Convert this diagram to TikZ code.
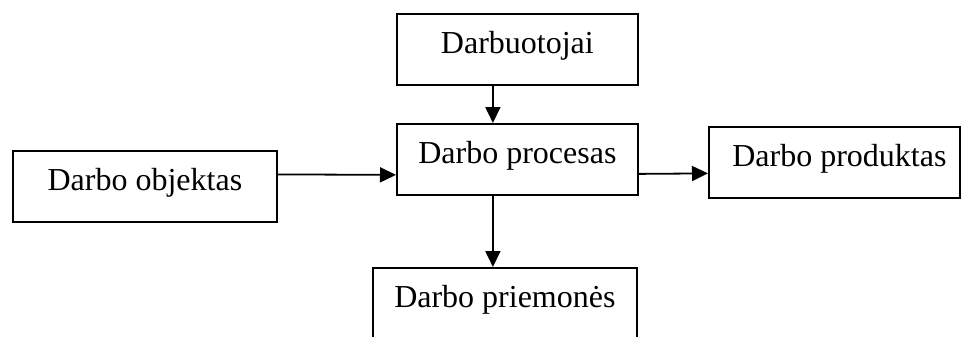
\documentclass[tikz,border=0pt]{standalone}
\usepackage{fontspec}
\setmainfont{Liberation Serif}
\usepackage{tikz}
\usetikzlibrary{arrows.meta}

\tikzset{
  box/.style={draw, line width=1.8pt, rectangle, anchor=north west, inner sep=0pt,
    text height=40pt, text depth=31pt, font=\fontsize{32}{38}\selectfont},
  arr/.style={line width=1.8pt, -{Triangle[length=16pt,width=15pt]}}
}

\begin{document}
\begin{tikzpicture}[x=1pt,y=-1pt]
    \useasboundingbox (0,0) rectangle (961,337);
    % boxes
    \node[box, minimum width=241pt] (darbuotojai) at (396,13) {Darbuotojai};
    \node[box, minimum width=241pt] (procesas) at (396,123) {Darbo procesas};
    \node[box, minimum width=264pt] (objektas) at (12,150) {Darbo objektas};
    \node[box, minimum width=251pt] (produktas) at (708,126) {\hspace*{10pt}Darbo produktas};
    \node[box, minimum width=264pt] (priemones) at (372,267) {Darbo priemonės};
    % arrows
    \draw[arr] ([xshift=-24.5pt]darbuotojai.south) -- ([xshift=-24.5pt]procesas.north);
    \draw[arr] ([yshift=12pt]objektas.east) -- ([yshift=-15.5pt]procesas.west);
    \draw[arr] ([yshift=-14.5pt]procesas.east) -- ([yshift=-11pt]produktas.west);
    \draw[arr] ([xshift=-24.5pt]procesas.south) -- ([xshift=-12pt]priemones.north);
\end{tikzpicture}
\end{document}
